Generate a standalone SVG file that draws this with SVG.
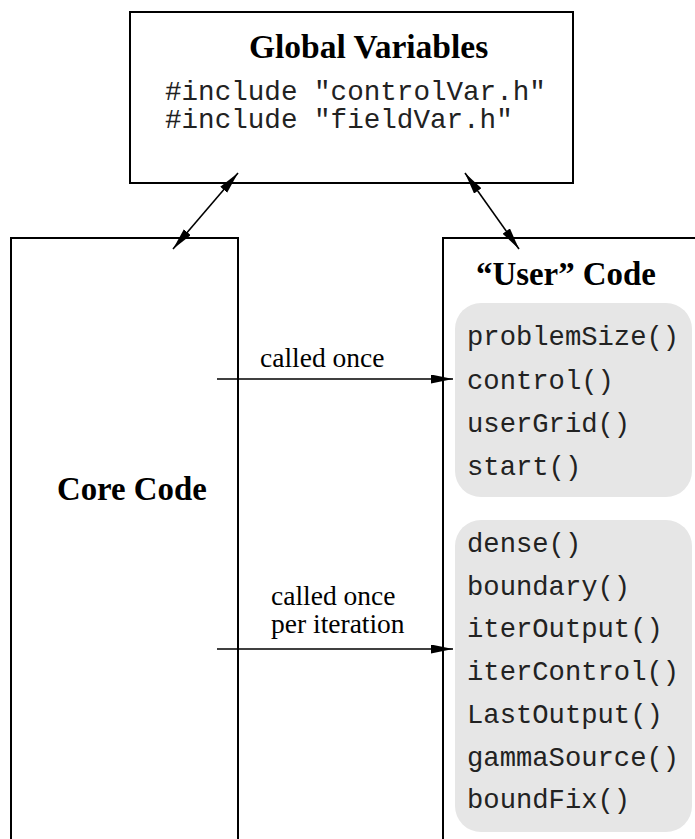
<svg xmlns="http://www.w3.org/2000/svg" width="695" height="839" viewBox="0 0 695 839">
<style>
.box{fill:#fff;stroke:#000;stroke-width:2}
.grey{fill:#e6e6e6;stroke:none}
.title{font-family:"Liberation Serif",serif;font-weight:bold;font-size:33.5px;fill:#000}
.lbl{font-family:"Liberation Serif",serif;font-size:27.5px;fill:#000}
.mono{font-family:"Liberation Mono",monospace;font-size:27.2px;fill:#222}
.conn{stroke:#000;stroke-width:1.6;fill:none}
</style>
<defs>
<marker id="ah" markerUnits="userSpaceOnUse" markerWidth="24" markerHeight="10" refX="22" refY="4.5" orient="auto-start-reverse" viewBox="0 0 24 10">
<path d="M0,0 L22,4.5 L0,9 z" fill="#000"/>
</marker>
</defs>
<g id="global">
<rect class="box" x="130" y="12" width="443" height="171"/>
<text class="title" x="249" y="58">Global Variables</text>
<text class="mono" x="165" y="100" style="font-size:27.6px">#include "controlVar.h"</text>
<text class="mono" x="165" y="128" style="font-size:27.6px">#include "fieldVar.h"</text>
</g>
<g id="core">
<path class="box" d="M11,845 L11,238 L238,238 L238,845"/>
<text class="title" x="57" y="500" style="font-size:32.8px">Core Code</text>
</g>
<g id="user">
<path class="box" d="M443,845 L443,238 L700,238"/>
<text class="title" x="476" y="285" style="font-size:32.9px">“User” Code</text>
<rect class="grey" x="455" y="303" width="237" height="194" rx="26"/>
<text class="mono" x="467" y="345">problemSize()</text>
<text class="mono" x="467" y="389">control()</text>
<text class="mono" x="467" y="432">userGrid()</text>
<text class="mono" x="467" y="475">start()</text>
<rect class="grey" x="455" y="520" width="237" height="312" rx="26"/>
<text class="mono" x="467" y="552">dense()</text>
<text class="mono" x="467" y="595">boundary()</text>
<text class="mono" x="467" y="637">iterOutput()</text>
<text class="mono" x="467" y="680">iterControl()</text>
<text class="mono" x="467" y="723">LastOutput()</text>
<text class="mono" x="467" y="766">gammaSource()</text>
<text class="mono" x="467" y="808">boundFix()</text>
</g>
<g id="connectors">
<line class="conn" x1="238" y1="173" x2="173" y2="249" marker-start="url(#ah)" marker-end="url(#ah)"/>
<line class="conn" x1="465" y1="173" x2="519" y2="249" marker-start="url(#ah)" marker-end="url(#ah)"/>
<line class="conn" x1="217" y1="379" x2="453" y2="379" marker-end="url(#ah)"/>
<text class="lbl" x="260" y="367">called once</text>
<line class="conn" x1="217" y1="649" x2="453" y2="649" marker-end="url(#ah)"/>
<text class="lbl" x="271" y="605">called once</text>
<text class="lbl" x="271" y="633">per iteration</text>
</g>
</svg>
